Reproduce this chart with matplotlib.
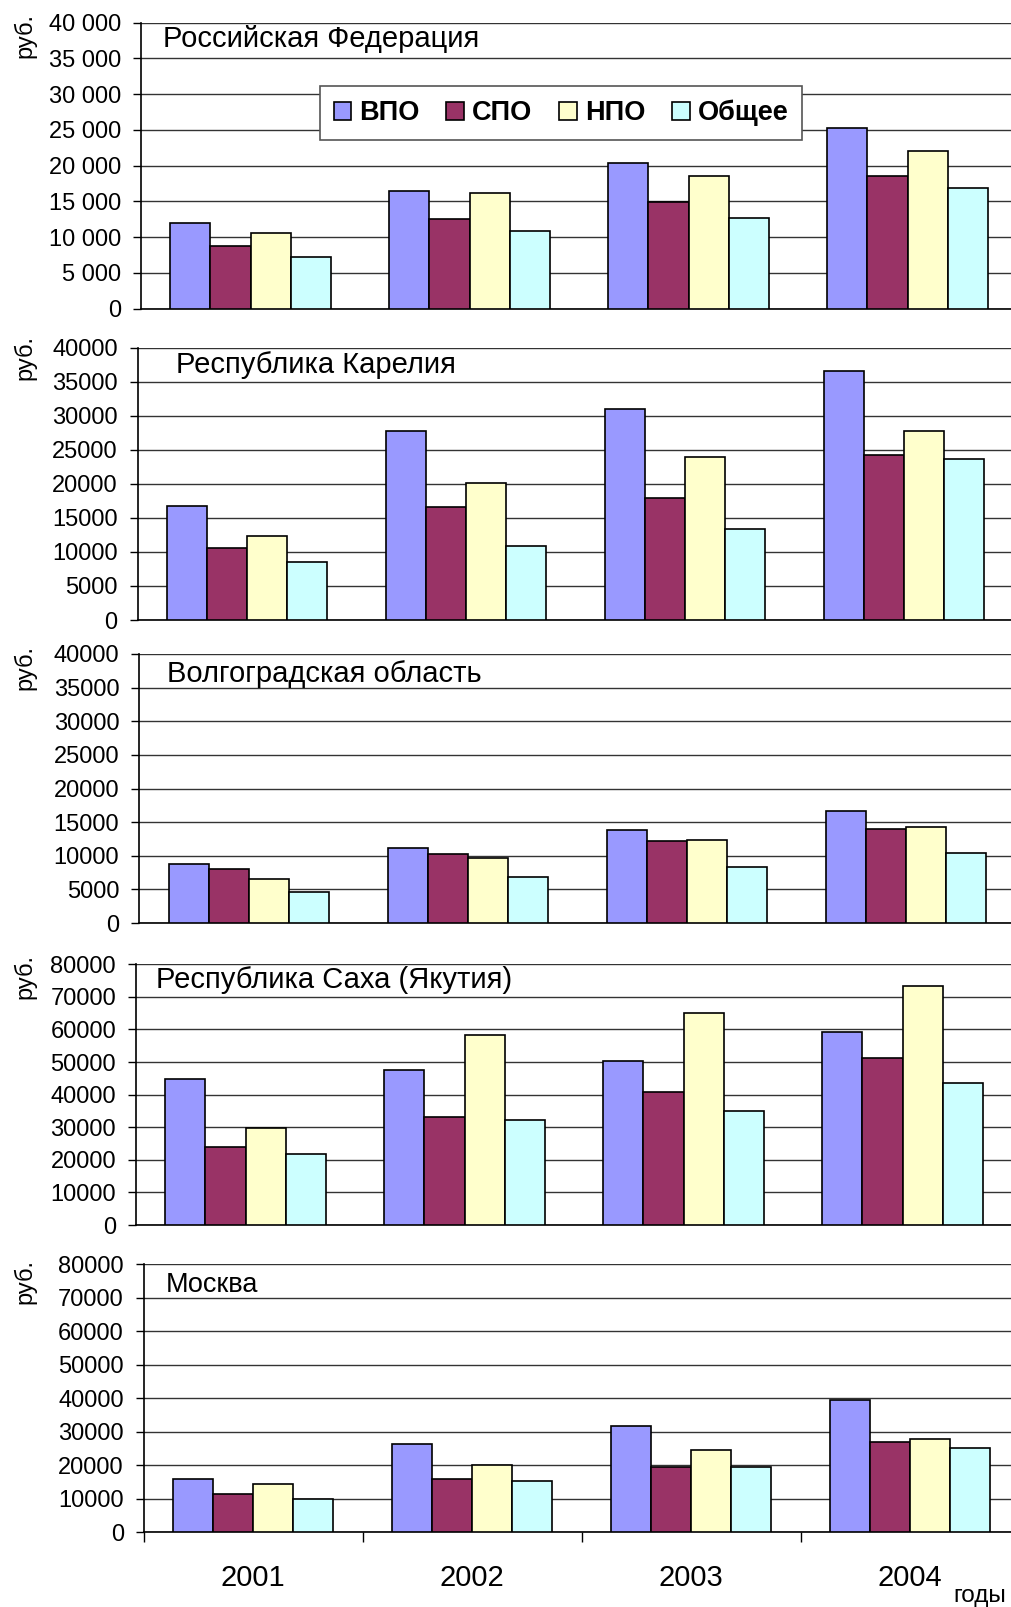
import numpy as np
import matplotlib.pyplot as plt
from matplotlib.ticker import MultipleLocator, FuncFormatter

plt.rcParams['font.family'] = ['Liberation Sans', 'DejaVu Sans']

# ==================== данные ====================
years = ['2001', '2002', '2003', '2004']
series = ['ВПО', 'СПО', 'НПО', 'Общее']
colors = ['#9999FF', '#993366', '#FFFFCC', '#CCFFFF']

rf_vpo = [12000, 16500, 20300, 25300]
rf_spo = [8800, 12500, 14900, 18500]
rf_npo = [10600, 16200, 18600, 22100]
rf_obsh = [7200, 10900, 12600, 16900]

kar_vpo = [16800, 27700, 31000, 36500]
kar_spo = [10600, 16600, 17900, 24200]
kar_npo = [12300, 20100, 23900, 27700]
kar_obsh = [8500, 10900, 13400, 23700]

vol_vpo = [8700, 11100, 13800, 16700]
vol_spo = [8000, 10200, 12200, 14000]
vol_npo = [6600, 9700, 12400, 14300]
vol_obsh = [4600, 6800, 8300, 10400]

yak_vpo = [44900, 47500, 50400, 59300]
yak_spo = [23800, 33200, 40900, 51400]
yak_npo = [29800, 58400, 65200, 73200]
yak_obsh = [21800, 32100, 35100, 43500]

msk_vpo = [15900, 26500, 31800, 39500]
msk_spo = [11500, 15900, 19500, 27100]
msk_npo = [14400, 20200, 24700, 28000]
msk_obsh = [9800, 15400, 19400, 25100]

titles = ['Российская Федерация', 'Республика Карелия', 'Волгоградская область',
          'Республика Саха (Якутия)', 'Москва']
panel_data = [
    [rf_vpo, rf_spo, rf_npo, rf_obsh],
    [kar_vpo, kar_spo, kar_npo, kar_obsh],
    [vol_vpo, vol_spo, vol_npo, vol_obsh],
    [yak_vpo, yak_spo, yak_npo, yak_obsh],
    [msk_vpo, msk_spo, msk_npo, msk_obsh],
]
y_max = [40000, 40000, 40000, 80000, 80000]
y_step = [5000, 5000, 5000, 10000, 10000]

# ==================== разметка (пиксели) ====================
W, H = 1011, 1607
ax_left = [141, 137.7, 139.3, 136, 143.8]
ax_top = [22.7, 347.5, 654, 964.3, 1264.3]
ax_bot = [308.5, 620, 923, 1225, 1532.3]
ax_w = 876
title_pos = [(163, 46.7), (175.7, 373), (167, 681.7), (156, 988), (166, 1291.7)]
title_size = [21, 21, 21, 21, 19.5]
rub_dy = [13, 10.5, 13.5, 12, 17]

PT = 72 / 100  # пиксели -> пункты


def fx(px):
    return px / W


def fy(py):
    return 1 - py / H


fig = plt.figure(figsize=(W / 100, H / 100), dpi=100)

x = np.arange(len(years))
bw = 0.183
axes = []
for i in range(5):
    ax = fig.add_axes([fx(ax_left[i]), fy(ax_bot[i]), ax_w / W, (ax_bot[i] - ax_top[i]) / H])
    for j in range(4):
        ax.bar(x + (j - 1.5) * bw, panel_data[i][j], bw, color=colors[j],
               edgecolor='black', linewidth=1.2, label=series[j], zorder=3)
    ax.set_xlim(-0.5, 3.5)
    ax.set_ylim(0, y_max[i])
    ax.yaxis.set_major_locator(MultipleLocator(y_step[i]))
    if i == 0:
        ax.yaxis.set_major_formatter(FuncFormatter(lambda v, p: f'{int(v):,}'.replace(',', ' ')))
    else:
        ax.yaxis.set_major_formatter(FuncFormatter(lambda v, p: f'{int(v)}'))
    ax.grid(axis='y', color='#333333', linewidth=1, zorder=0)
    ax.set_axisbelow(True)
    for s in ['top', 'right']:
        ax.spines[s].set_visible(False)
    ax.spines['left'].set_linewidth(1.2)
    ax.spines['bottom'].set_linewidth(1.2)
    ax.tick_params(axis='y', length=8 * PT, width=1, pad=12 * PT, labelsize=17)
    if i < 4:
        ax.set_xticks([])
    else:
        ax.set_xticks(x)
        ax.set_xticklabels(years, fontsize=21)
        ax.set_xticks([-0.5] + list(x[:-1] + 0.5), minor=True)
        ax.tick_params(axis='x', which='major', length=0, pad=32 * PT)
        ax.tick_params(axis='x', which='minor', length=10 * PT, width=1)
    fig.text(fx(title_pos[i][0]), fy(title_pos[i][1]), titles[i], fontsize=title_size[i],
             ha='left', va='baseline')
    fig.text(fx(25), fy(ax_top[i] + rub_dy[i]), 'руб.', fontsize=17, rotation=90,
             ha='center', va='center')
    axes.append(ax)

# легенда в первой панели
leg = axes[0].legend(loc='center', ncol=4, mode='expand',
                     bbox_to_anchor=(fx(320), fy(139), 482 / W, 52 / H),
                     bbox_transform=fig.transFigure,
                     prop={'weight': 'bold', 'size': 19.5},
                     handlelength=0.65, handleheight=0.65, handletextpad=0.3,
                     borderpad=0.5, fancybox=False, framealpha=1, borderaxespad=0)
leg.get_frame().set_edgecolor('#555555')
leg.get_frame().set_linewidth(1.2)
leg.set_zorder(10)

fig.text(fx(980), fy(1596), 'годы', fontsize=17.5, ha='center', va='center')

fig.savefig('out.png', dpi=100)
